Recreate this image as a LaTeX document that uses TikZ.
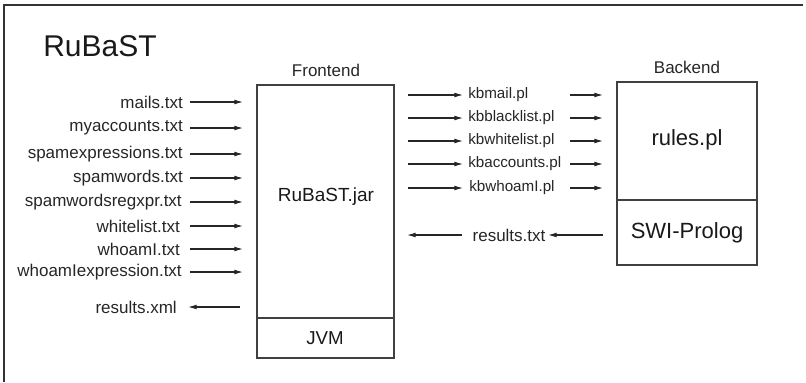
\documentclass[tikz,border=0pt]{standalone}
\usepackage{fontspec}
\setmainfont{Liberation Sans}
\usetikzlibrary{arrows.meta}
\begin{document}
\begin{tikzpicture}[x=0.75pt,y=-0.75pt,
  file/.style={inner sep=0pt,font=\fontsize{12.75pt}{14pt}\selectfont,text=black!85},
  kbfile/.style={inner sep=0pt,font=\fontsize{11.4pt}{13pt}\selectfont,text=black!85},
  arr/.style={line width=0.8pt,black!85,-{Latex[length=6.5pt,width=3.6pt]}},
  box/.style={draw=black!75,line width=0.9pt},
  caption/.style={inner sep=0pt,font=\fontsize{12.75pt}{14pt}\selectfont,text=black!85}]
\useasboundingbox (0,0) rectangle (806,382);

% outer frame (top and left only)
\draw[black!80,line width=1pt] (4,382) -- (4,5) -- (803,5);

% title
\node[inner sep=0pt,font=\fontsize{22.5pt}{24pt}\selectfont,text=black!90] (title) at (100,46) {RuBaST};

% frontend
\node[caption] (fecap) at (326,70) {Frontend};
\draw[box] (257,85) rectangle (394,318);
\draw[box] (257,318) rectangle (394,358);
\node[inner sep=0pt,font=\fontsize{14.25pt}{16pt}\selectfont,text=black!90] (jar) at (326,197) {RuBaST.jar};
\node[inner sep=0pt,font=\fontsize{14pt}{16pt}\selectfont,text=black!90] (jvm) at (325,338) {JVM};

% backend
\node[caption] (becap) at (687,67) {Backend};
\draw[box] (617,82) rectangle (757,200);
\draw[box] (617,200) rectangle (757,265);
\node[inner sep=0pt,font=\fontsize{16.5pt}{18pt}\selectfont,text=black!90] (rules) at (687,140) {rules.pl};
\node[inner sep=0pt,font=\fontsize{16.5pt}{18pt}\selectfont,text=black!90] (swi) at (687,233) {SWI-Prolog};

% input files (right aligned)
\node[file,anchor=east] (f1) at (183,102) {mails.txt};
\node[file,anchor=east] (f2) at (183,128) {myaccounts.txt};
\node[file,anchor=east] (f3) at (183,154) {spamexpressions.txt};
\node[file,anchor=east] (f4) at (183,178) {spamwords.txt};
\node[file,anchor=east] (f5) at (182,202) {spamwordsregxpr.txt};
\node[file,anchor=east] (f6) at (180,226) {whitelist.txt};
\node[file,anchor=east] (f7) at (180,249) {whoamI.txt};
\node[file,anchor=east] (f8) at (182,272) {whoamIexpression.txt};
\node[file,anchor=east] (f9) at (177,307) {results.xml};

\coordinate (inL) at (190,0);
\coordinate (inR) at (243,0);
\foreach \n in {f1,f2,f3,f4,f5,f6,f7,f8}
  \draw[arr] (\n -| inL) -- (\n -| inR);
\draw[arr] (f9 -| 240,0) -- (f9 -| 188,0);

% knowledge base files
\node[kbfile,anchor=west] (k1) at (468,95) {kbmail.pl};
\node[kbfile,anchor=west] (k2) at (468,118) {kbblacklist.pl};
\node[kbfile,anchor=west] (k3) at (468,141) {kbwhitelist.pl};
\node[kbfile,anchor=west] (k4) at (468,164) {kbaccounts.pl};
\node[kbfile,anchor=west] (k5) at (469,188) {kbwhoamI.pl};

\coordinate (mL) at (408,0);
\coordinate (mR) at (463,0);
\coordinate (bL) at (570,0);
\coordinate (bR) at (603,0);
\foreach \n in {k1,k2,k3,k4,k5}{
  \draw[arr] (\n -| mL) -- (\n -| mR);
  \draw[arr] (\n -| bL) -- (\n -| bR);
}

% results returned from backend
\node[file] (res) at (509,235) {results.txt};
\draw[arr] (res -| 603,0) -- (res -| 548,0);
\draw[arr] (res -| 462,0) -- (res -| 407,0);
\end{tikzpicture}
\end{document}
